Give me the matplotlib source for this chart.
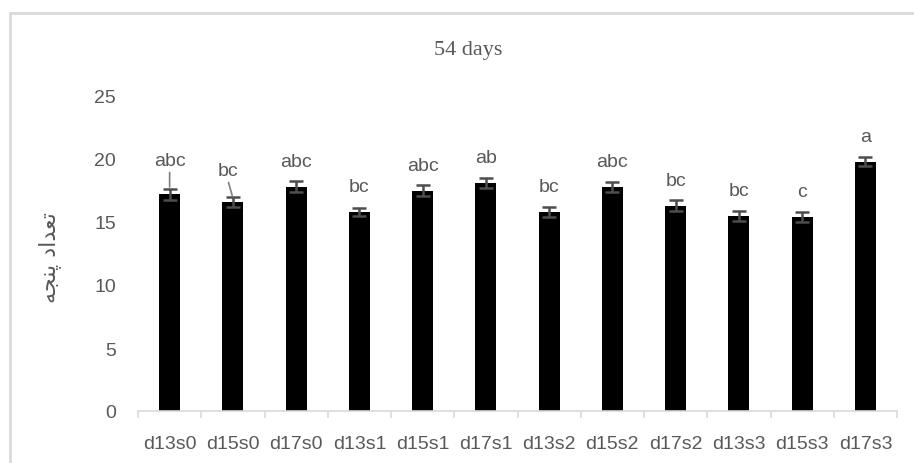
import matplotlib
matplotlib.use("Agg")
import matplotlib.pyplot as plt
from matplotlib.patches import Rectangle

categories = ["d13s0", "d15s0", "d17s0", "d13s1", "d15s1", "d17s1",
              "d13s2", "d15s2", "d17s2", "d13s3", "d15s3", "d17s3"]
means = [17.2, 16.6, 17.8, 15.8, 17.5, 18.1, 15.8, 17.8, 16.3, 15.5, 15.4, 19.8]
errors = [0.45, 0.40, 0.45, 0.35, 0.40, 0.40, 0.40, 0.40, 0.45, 0.40, 0.40, 0.35]
letters = ["abc", "bc", "abc", "bc", "abc", "ab", "bc", "abc", "bc", "bc", "c", "a"]
yticks = [0, 5, 10, 15, 20, 25]

TITLE = "54 days"
# "تعداد پنجه" written in shaped presentation forms, visual order
YLABEL = "\uFEEA\uFEA0\uFEE8\uFB58 \uFEA9\uFE8D\uFEAA\uFECC\uFE97"

TEXT = "#595959"
AXIS = "#d9d9d9"
SANS = ["Liberation Sans Narrow", "Liberation Sans", "DejaVu Sans"]

# labels that Excel pushed up, with a leader line: index -> (extra y, x shift)
moved = {0: (0.7, 0.0), 1: (0.5, -0.08)}


def main():
    fig = plt.figure(figsize=(9.14, 4.64), dpi=100)
    ax = fig.add_axes([138 / 914, 1 - 412 / 464, (897 - 138) / 914, (412 - 97) / 464])

    # chart area border
    fig.patches.append(Rectangle((10 / 914, -0.1), 1.2, 1 - 14 / 464 + 0.1,
                                 transform=fig.transFigure, fill=False,
                                 edgecolor=AXIS, linewidth=2))

    x = list(range(len(categories)))
    ax.bar(x, means, width=0.33, color="black", zorder=2)
    ax.errorbar(x, means, yerr=errors, fmt="none", ecolor="#4d4d4d",
                elinewidth=1.8, capsize=4.8, capthick=1.8, zorder=3)

    for i, (m, e, lab) in enumerate(zip(means, errors, letters)):
        dy, dx = moved.get(i, (0.0, 0.0))
        ty = m + 2.0 + dy
        ax.text(i + dx, ty, lab, ha="center", va="center", fontsize=14,
                color=TEXT, family=SANS)
        if i in moved:
            ax.annotate("", xy=(i, m + e - 0.1), xytext=(i + dx, ty - 0.75),
                        arrowprops=dict(arrowstyle="-", color="#808080", lw=1.2))

    ax.set_xlim(-0.5, len(categories) - 0.5)
    ax.set_ylim(0, 25)
    ax.set_yticks(yticks)
    ax.set_yticklabels([str(v) for v in yticks], family=SANS, fontsize=14, color=TEXT)
    ax.set_xticks([i + 0.5 for i in range(-1, len(categories))], minor=False)
    ax.set_xticklabels([])
    ax.set_xticks(x, minor=True)
    ax.set_xticklabels(categories, minor=True, family=SANS, fontsize=14, color=TEXT)

    ax.tick_params(axis="y", length=0, pad=16)
    ax.tick_params(axis="x", which="major", length=5, width=1.2, color=AXIS)
    ax.tick_params(axis="x", which="minor", length=0, pad=17)

    for side in ["top", "right", "left"]:
        ax.spines[side].set_visible(False)
    ax.spines["bottom"].set_color(AXIS)
    ax.spines["bottom"].set_linewidth(1.2)

    fig.text(468 / 914, 1 - 50 / 464, TITLE, ha="center", va="center",
             fontsize=16, color=TEXT, family=["Liberation Serif", "DejaVu Serif"])
    fig.text(50 / 914, 1 - 258 / 464, YLABEL, ha="center", va="center",
             rotation=90, fontsize=16, color=TEXT, family="DejaVu Sans")

    fig.savefig("out.png", dpi=100)


if __name__ == "__main__":
    main()
